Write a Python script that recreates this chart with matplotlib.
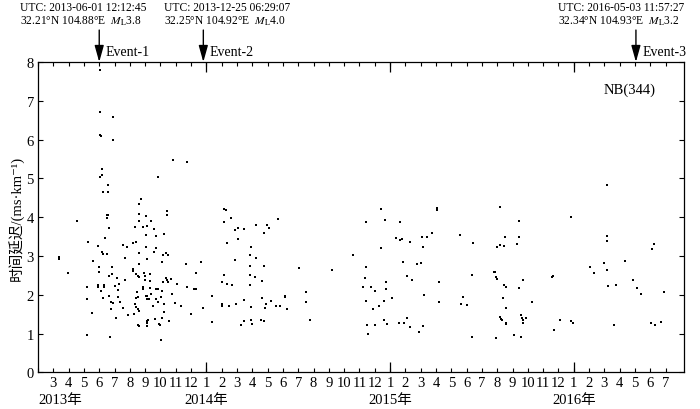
import matplotlib
matplotlib.use("Agg")
import matplotlib.pyplot as plt
from matplotlib.transforms import blended_transform_factory

plt.rcParams['font.family'] = ['Liberation Serif', 'Noto Sans CJK SC', 'DejaVu Sans']
plt.rcParams['mathtext.fontset'] = 'stix'

# x values: months elapsed since 2013-01-01 ; y values: time delay (ms/km)
t_2013 = [5.02, 5.02, 5.91, 5.04, 5.13, 5.91, 5.15, 5.15, 5.04, 5.57, 5.59, 5.24, 5.48, 5.59, 5.54,
          5.61, 3.52, 5.37, 4.28, 4.93, 6.52, 6.83, 5.17, 5.26, 5.48, 2.39, 2.39, 6.67, 4.57, 2.98,
          5.00, 5.00, 5.85, 5.61, 5.85, 6.17, 6.30, 6.67, 4.20, 4.89, 4.89, 5.28, 5.28, 6.02, 5.11,
          4.20, 5.24, 5.67, 6.22, 6.22, 5.80, 5.91, 6.35, 5.74, 6.52, 4.54, 6.11, 6.85, 4.22, 5.72,
          9.83, 10.74, 8.83, 7.76, 7.63, 9.41, 9.41, 7.63, 8.07, 7.59, 8.41, 7.35, 7.89, 8.13, 8.59,
          9.20, 8.04, 8.72, 7.22, 7.37, 8.07, 8.72, 7.57, 8.57, 9.37, 9.52, 9.15, 8.13, 7.63, 9.11,
          10.70, 11.67, 7.22, 7.22, 7.41, 7.52, 7.57, 7.93, 7.96, 8.30, 7.98, 8.30, 9.33, 9.43, 9.67,
          9.52, 9.17, 10.09, 11.35, 7.89, 7.89, 8.30, 8.70, 8.87, 9.09, 10.76, 11.17, 11.33, 7.46,
          8.04, 8.15, 8.35, 9.76, 7.39, 7.52, 8.11, 8.24, 8.72, 9.02, 9.96, 10.33, 7.35, 7.43, 8.83,
          9.20, 8.52, 7.50, 7.59, 7.30, 9.26, 11.80, 11.00, 9.13, 8.13, 8.20, 8.67, 9.59, 8.09, 7.52,
          7.63, 8.09, 8.89, 9.00, 9.04]
d_2013 = [7.79, 6.72, 6.59, 6.11, 6.08, 6.00, 5.23, 5.09, 5.03, 4.82, 4.66, 4.66, 4.05, 4.05, 3.99,
          3.71, 3.91, 3.47, 3.36, 3.26, 3.29, 3.22, 3.09, 3.05, 3.05, 2.98, 2.91, 2.94, 2.87, 2.57,
          2.72, 2.59, 2.71, 2.49, 2.54, 2.44, 2.28, 2.38, 2.19, 2.26, 2.19, 2.26, 2.21, 2.22, 2.09,
          1.90, 1.91, 1.98, 2.12, 1.93, 1.80, 1.78, 1.82, 1.63, 1.67, 1.53, 1.41, 1.47, 0.97, 0.92,
          5.47, 5.41, 5.03, 4.47, 4.34, 4.15, 4.05, 4.07, 4.03, 3.89, 3.89, 3.74, 3.74, 3.76, 3.69,
          3.57, 3.55, 3.51, 3.34, 3.36, 3.23, 3.20, 3.08, 3.09, 3.08, 3.03, 3.02, 2.93, 2.80, 2.84,
          2.78, 2.85, 2.66, 2.60, 2.54, 2.49, 2.46, 2.56, 2.48, 2.54, 2.38, 2.36, 2.43, 2.39, 2.40,
          2.34, 2.32, 2.28, 2.56, 2.21, 2.16, 2.17, 2.16, 2.14, 2.09, 2.21, 2.16, 2.16, 2.06,
          1.97, 1.98, 2.02, 2.03, 1.91, 1.93, 1.90, 1.90, 1.88, 1.95, 1.78, 1.72, 1.77, 1.68, 1.80,
          1.77, 1.72, 1.63, 1.59, 1.50, 1.55, 1.66, 1.50, 1.40, 1.33, 1.34, 1.37, 1.32, 1.28, 1.22,
          1.19, 1.19, 1.25, 1.23, 0.84]

t_2014 = [12.37, 12.37, 13.15, 13.28, 13.15, 13.59, 13.33, 13.87, 14.07, 14.48, 14.09, 13.87, 15.21,
          15.75, 15.75, 15.95, 16.08, 16.65, 14.94, 14.83, 15.21, 14.88, 15.75, 13.15, 13.00, 13.35,
          13.68, 14.86, 15.18, 14.86, 15.66, 13.02, 13.02, 13.48, 13.92, 14.46, 14.94, 15.64, 15.88,
          15.81, 16.23, 16.58, 16.82, 17.15, 17.15, 17.26, 14.24, 14.44, 14.90, 15.00, 15.55, 15.79,
          18.04, 18.52, 18.52, 18.74, 20.18, 21.58, 22.41, 22.39, 22.26, 22.45, 22.74, 23.02, 22.45,
          22.89, 23.28, 23.61, 22.52, 22.56, 23.02, 23.39, 23.43, 23.70, 23.72, 23.76, 23.61, 23.81]
d_2014 = [1.97, 1.30, 4.22, 4.19, 3.88, 3.98, 3.33, 3.67, 3.72, 3.70, 3.43, 2.89, 3.79,
          3.60, 3.58, 3.80, 3.72, 3.95, 3.23, 3.02, 2.95, 2.74, 2.74, 2.52, 2.34, 2.27,
          2.26, 2.52, 2.45, 2.26, 2.35, 1.75, 1.70, 1.70, 1.75, 1.86, 1.68, 1.92, 1.75,
          1.65, 1.84, 1.72, 1.72, 1.97, 1.93, 1.64, 1.21, 1.31, 1.34, 1.25, 1.36, 1.32,
          2.70, 2.08, 1.80, 1.34, 2.64, 3.02, 2.71, 2.43, 2.20, 3.88, 2.20, 2.10, 1.84,
          1.63, 1.71, 1.83, 1.23, 1.00, 1.23, 4.21, 3.21, 3.92, 2.32, 2.14, 1.34, 1.25]

t_2015 = [24.11, 24.63, 24.39, 24.68, 24.76, 25.33, 24.83, 25.09, 25.44, 24.57, 24.92, 25.09, 25.27,
          26.10, 26.40, 26.16, 26.73, 25.79, 26.03, 26.21, 26.12, 25.92, 27.08, 27.08, 27.19, 27.21,
          28.54, 29.39, 29.37, 28.74, 28.61, 29.00, 29.33, 31.21, 32.43, 31.53, 32.43, 31.01, 31.18,
          31.47, 32.28, 30.79, 30.83, 30.92, 30.97, 31.42, 31.55, 32.41, 32.71, 31.38, 31.55, 31.16,
          31.34, 31.27, 31.55, 31.55, 30.90, 32.08, 32.54, 32.60, 32.65, 32.71, 32.86, 32.58, 33.26,
          34.57, 34.64, 35.07, 34.74, 35.85, 35.85, 35.96]
d_2015 = [1.91, 3.87, 3.46, 3.41, 3.43, 3.36, 2.85, 2.47, 2.38, 1.28, 1.27, 1.39, 1.16,
          3.48, 3.49, 3.24, 3.58, 2.78, 2.83, 1.99, 1.19, 1.03, 4.23, 4.19, 2.34, 1.81,
          3.55, 3.33, 2.52, 1.93, 1.76, 1.73, 0.92, 4.25, 3.90, 3.48, 3.48, 3.23, 3.28,
          3.26, 3.32, 2.59, 2.58, 2.46, 2.40, 2.26, 2.21, 2.17, 2.37, 1.92, 1.65, 1.43,
          1.34, 1.37, 1.27, 1.24, 0.88, 0.95, 1.47, 1.39, 1.34, 1.28, 1.40, 0.91, 1.81,
          2.46, 2.48, 1.34, 1.09, 4.00, 1.33, 1.28]

t_2016 = [37.09, 37.35, 37.99, 38.16, 38.16, 38.16, 38.16, 38.23, 38.77, 38.64, 39.32, 39.86, 40.15,
          40.39, 41.09, 41.24, 41.04, 41.31, 41.70, 41.92]
d_2016 = [2.71, 2.57, 2.81, 4.82, 3.51, 3.38, 2.64, 2.23, 2.25, 1.23, 2.87, 2.39, 2.17,
          2.02, 3.18, 3.31, 1.27, 1.22, 1.30, 2.07]

# events: month position, label, description
event_t = [5.00, 11.80, 40.06]
event_names = ['Event-1', 'Event-2', 'Event-3']
event_utc = ['UTC: 2013-06-01 12:12:45', 'UTC: 2013-12-25 06:29:07', 'UTC: 2016-05-03 11:57:27']
event_loc = [r'32.21°N 104.88°E  $M_{\mathrm{L}}$3.8', r'32.25°N 104.92°E  $M_{\mathrm{L}}$4.0',
             r'32.34°N 104.93°E  $M_{\mathrm{L}}$3.2']
event_text_x = [-0.16, 9.25, 34.94]

month_ticks = list(range(1, 43))
year_ticks = [12, 24, 36]
year_labels = ['2013年', '2014年', '2015年', '2016年']
year_label_x = [2.45, 12, 24, 36]

fig = plt.figure(figsize=(7.0, 4.1), dpi=100)
ax = fig.add_axes([38/700, 1-373.3/410, (684-38)/700, (373.3-63)/410])

t_all = t_2013 + t_2014 + t_2015 + t_2016
d_all = d_2013 + d_2014 + d_2015 + d_2016
ax.scatter(t_all, d_all, s=4.5, marker='s', color='black', linewidths=0, zorder=3)

ax.set_xlim(1, 43.2)
ax.set_ylim(0, 8)

ax.xaxis.remove_overlapping_locs = False
ax.set_xticks(month_ticks)
ax.set_xticklabels(['' if m == 1 else str(m % 12 + 1) for m in month_ticks])
ax.set_xticks(year_ticks, minor=True)
ax.set_yticks(range(0, 9))

ax.tick_params(axis='x', which='major', direction='in', length=3, width=0.8,
               top=True, bottom=True, labelsize=10.5, pad=3)
ax.tick_params(axis='x', which='minor', direction='in', length=7.5, width=0.9,
               top=True, bottom=True)
ax.tick_params(axis='y', which='major', direction='in', length=3.5, width=0.8,
               left=True, right=True, labelsize=10.5, pad=3)
for s in ax.spines.values():
    s.set_linewidth(0.9)

trans = blended_transform_factory(ax.transData, ax.transAxes)
for x, lab in zip(year_label_x, year_labels):
    ax.text(x, -0.088, lab, transform=trans, ha='center', va='center', fontsize=10.5, clip_on=False)

ax.set_ylabel('时间延迟/(ms·km⁻¹)', fontsize=10.5)
ax.yaxis.set_label_coords(-0.021, 0.5)

ax.text(41.35, 7.29, 'NB(344)', ha='right', va='center', fontsize=10.5)

for x, name, utc, loc, tx in zip(event_t, event_names, event_utc, event_loc, event_text_x):
    ax.annotate('', xy=(x, 1.0), xycoords=trans, xytext=(x, 1.103), textcoords=trans,
                arrowprops=dict(arrowstyle='-|>,head_length=1.0,head_width=0.28', color='black',
                                lw=1.0, shrinkA=0, shrinkB=0, mutation_scale=10),
                annotation_clip=False)
    ax.text(x + 0.4, 1.035, name, transform=trans, ha='left', va='center', fontsize=10, clip_on=False)
    ax.text(tx, 1.178, utc, transform=trans, ha='left', va='center', fontsize=8.3, clip_on=False)
    ax.text(tx, 1.133, loc, transform=trans, ha='left', va='center', fontsize=8.3, clip_on=False)

fig.savefig('out.png', dpi=100)
